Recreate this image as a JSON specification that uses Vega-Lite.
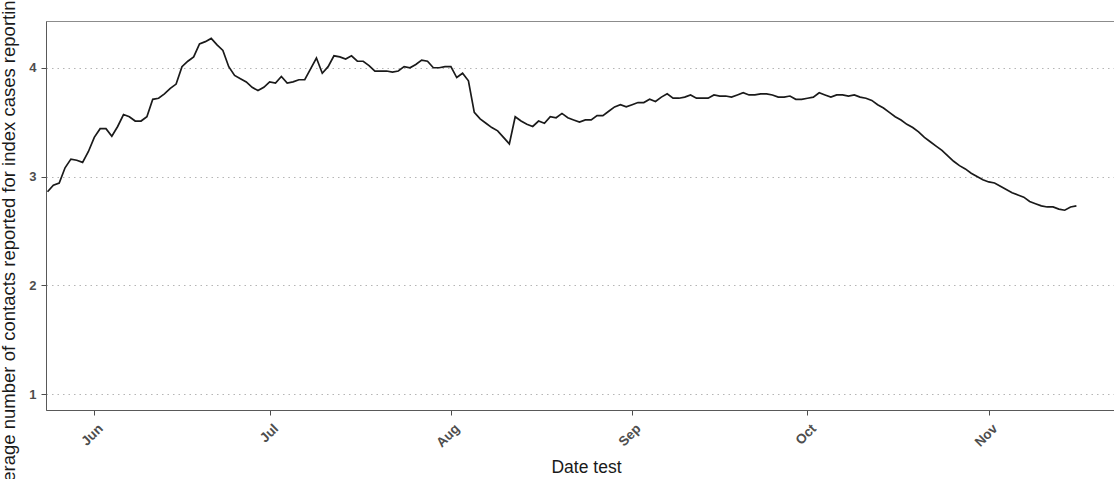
{
  "$schema": "https://vega.github.io/schema/vega-lite/v6.json",
  "autosize": {"type": "none"},
  "padding": {"left": 46, "top": 21, "right": 0, "bottom": 69},
  "width": 1068,
  "height": 389,
  "background": "white",
  "config": {
    "font": "Liberation Sans",
    "view": {"stroke": "#8c8c8c", "strokeWidth": 1}
  },
  "data": {
    "values": [
      {"date": "2020-05-24", "value": 2.86}, {"date": "2020-05-25", "value": 2.92}, {"date": "2020-05-26", "value": 2.94},
      {"date": "2020-05-27", "value": 3.08}, {"date": "2020-05-28", "value": 3.16}, {"date": "2020-05-29", "value": 3.15},
      {"date": "2020-05-30", "value": 3.13}, {"date": "2020-05-31", "value": 3.23}, {"date": "2020-06-01", "value": 3.36},
      {"date": "2020-06-02", "value": 3.44}, {"date": "2020-06-03", "value": 3.44}, {"date": "2020-06-04", "value": 3.37},
      {"date": "2020-06-05", "value": 3.46}, {"date": "2020-06-06", "value": 3.57}, {"date": "2020-06-07", "value": 3.55},
      {"date": "2020-06-08", "value": 3.51}, {"date": "2020-06-09", "value": 3.51}, {"date": "2020-06-10", "value": 3.55},
      {"date": "2020-06-11", "value": 3.71}, {"date": "2020-06-12", "value": 3.72}, {"date": "2020-06-13", "value": 3.76},
      {"date": "2020-06-14", "value": 3.81}, {"date": "2020-06-15", "value": 3.85}, {"date": "2020-06-16", "value": 4.01},
      {"date": "2020-06-17", "value": 4.06}, {"date": "2020-06-18", "value": 4.10}, {"date": "2020-06-19", "value": 4.22},
      {"date": "2020-06-20", "value": 4.24}, {"date": "2020-06-21", "value": 4.27}, {"date": "2020-06-22", "value": 4.21},
      {"date": "2020-06-23", "value": 4.16}, {"date": "2020-06-24", "value": 4.01}, {"date": "2020-06-25", "value": 3.93},
      {"date": "2020-06-26", "value": 3.90}, {"date": "2020-06-27", "value": 3.87}, {"date": "2020-06-28", "value": 3.82},
      {"date": "2020-06-29", "value": 3.79}, {"date": "2020-06-30", "value": 3.82}, {"date": "2020-07-01", "value": 3.87},
      {"date": "2020-07-02", "value": 3.86}, {"date": "2020-07-03", "value": 3.92}, {"date": "2020-07-04", "value": 3.86},
      {"date": "2020-07-05", "value": 3.87}, {"date": "2020-07-06", "value": 3.89}, {"date": "2020-07-07", "value": 3.89},
      {"date": "2020-07-08", "value": 3.99}, {"date": "2020-07-09", "value": 4.09}, {"date": "2020-07-10", "value": 3.95},
      {"date": "2020-07-11", "value": 4.01}, {"date": "2020-07-12", "value": 4.11}, {"date": "2020-07-13", "value": 4.10},
      {"date": "2020-07-14", "value": 4.08}, {"date": "2020-07-15", "value": 4.11}, {"date": "2020-07-16", "value": 4.06},
      {"date": "2020-07-17", "value": 4.06}, {"date": "2020-07-18", "value": 4.02}, {"date": "2020-07-19", "value": 3.97},
      {"date": "2020-07-20", "value": 3.97}, {"date": "2020-07-21", "value": 3.97}, {"date": "2020-07-22", "value": 3.96},
      {"date": "2020-07-23", "value": 3.97}, {"date": "2020-07-24", "value": 4.01}, {"date": "2020-07-25", "value": 4.00},
      {"date": "2020-07-26", "value": 4.03}, {"date": "2020-07-27", "value": 4.07}, {"date": "2020-07-28", "value": 4.06},
      {"date": "2020-07-29", "value": 4.00}, {"date": "2020-07-30", "value": 4.00}, {"date": "2020-07-31", "value": 4.01},
      {"date": "2020-08-01", "value": 4.01}, {"date": "2020-08-02", "value": 3.91}, {"date": "2020-08-03", "value": 3.95},
      {"date": "2020-08-04", "value": 3.88}, {"date": "2020-08-05", "value": 3.59}, {"date": "2020-08-06", "value": 3.53},
      {"date": "2020-08-07", "value": 3.49}, {"date": "2020-08-08", "value": 3.45}, {"date": "2020-08-09", "value": 3.42},
      {"date": "2020-08-10", "value": 3.36}, {"date": "2020-08-11", "value": 3.30}, {"date": "2020-08-12", "value": 3.55},
      {"date": "2020-08-13", "value": 3.51}, {"date": "2020-08-14", "value": 3.48}, {"date": "2020-08-15", "value": 3.46},
      {"date": "2020-08-16", "value": 3.51}, {"date": "2020-08-17", "value": 3.49}, {"date": "2020-08-18", "value": 3.55},
      {"date": "2020-08-19", "value": 3.54}, {"date": "2020-08-20", "value": 3.58}, {"date": "2020-08-21", "value": 3.54},
      {"date": "2020-08-22", "value": 3.52}, {"date": "2020-08-23", "value": 3.50}, {"date": "2020-08-24", "value": 3.52},
      {"date": "2020-08-25", "value": 3.52}, {"date": "2020-08-26", "value": 3.56}, {"date": "2020-08-27", "value": 3.56},
      {"date": "2020-08-28", "value": 3.60}, {"date": "2020-08-29", "value": 3.64}, {"date": "2020-08-30", "value": 3.66},
      {"date": "2020-08-31", "value": 3.64}, {"date": "2020-09-01", "value": 3.66}, {"date": "2020-09-02", "value": 3.68},
      {"date": "2020-09-03", "value": 3.68}, {"date": "2020-09-04", "value": 3.71}, {"date": "2020-09-05", "value": 3.69},
      {"date": "2020-09-06", "value": 3.73}, {"date": "2020-09-07", "value": 3.76}, {"date": "2020-09-08", "value": 3.72},
      {"date": "2020-09-09", "value": 3.72}, {"date": "2020-09-10", "value": 3.73}, {"date": "2020-09-11", "value": 3.75},
      {"date": "2020-09-12", "value": 3.72}, {"date": "2020-09-13", "value": 3.72}, {"date": "2020-09-14", "value": 3.72},
      {"date": "2020-09-15", "value": 3.75}, {"date": "2020-09-16", "value": 3.74}, {"date": "2020-09-17", "value": 3.74},
      {"date": "2020-09-18", "value": 3.73}, {"date": "2020-09-19", "value": 3.75}, {"date": "2020-09-20", "value": 3.77},
      {"date": "2020-09-21", "value": 3.75}, {"date": "2020-09-22", "value": 3.75}, {"date": "2020-09-23", "value": 3.76},
      {"date": "2020-09-24", "value": 3.76}, {"date": "2020-09-25", "value": 3.75}, {"date": "2020-09-26", "value": 3.73},
      {"date": "2020-09-27", "value": 3.73}, {"date": "2020-09-28", "value": 3.74}, {"date": "2020-09-29", "value": 3.71},
      {"date": "2020-09-30", "value": 3.71}, {"date": "2020-10-01", "value": 3.72}, {"date": "2020-10-02", "value": 3.73},
      {"date": "2020-10-03", "value": 3.77}, {"date": "2020-10-04", "value": 3.75}, {"date": "2020-10-05", "value": 3.73},
      {"date": "2020-10-06", "value": 3.75}, {"date": "2020-10-07", "value": 3.75}, {"date": "2020-10-08", "value": 3.74},
      {"date": "2020-10-09", "value": 3.75}, {"date": "2020-10-10", "value": 3.73}, {"date": "2020-10-11", "value": 3.72},
      {"date": "2020-10-12", "value": 3.70}, {"date": "2020-10-13", "value": 3.66}, {"date": "2020-10-14", "value": 3.63},
      {"date": "2020-10-15", "value": 3.59}, {"date": "2020-10-16", "value": 3.55}, {"date": "2020-10-17", "value": 3.52},
      {"date": "2020-10-18", "value": 3.48}, {"date": "2020-10-19", "value": 3.45}, {"date": "2020-10-20", "value": 3.41},
      {"date": "2020-10-21", "value": 3.36}, {"date": "2020-10-22", "value": 3.32}, {"date": "2020-10-23", "value": 3.28},
      {"date": "2020-10-24", "value": 3.24}, {"date": "2020-10-25", "value": 3.19}, {"date": "2020-10-26", "value": 3.14},
      {"date": "2020-10-27", "value": 3.10}, {"date": "2020-10-28", "value": 3.07}, {"date": "2020-10-29", "value": 3.03},
      {"date": "2020-10-30", "value": 3.00}, {"date": "2020-10-31", "value": 2.97}, {"date": "2020-11-01", "value": 2.95},
      {"date": "2020-11-02", "value": 2.94}, {"date": "2020-11-03", "value": 2.91}, {"date": "2020-11-04", "value": 2.88},
      {"date": "2020-11-05", "value": 2.85}, {"date": "2020-11-06", "value": 2.83}, {"date": "2020-11-07", "value": 2.81},
      {"date": "2020-11-08", "value": 2.77}, {"date": "2020-11-09", "value": 2.75}, {"date": "2020-11-10", "value": 2.73},
      {"date": "2020-11-11", "value": 2.72}, {"date": "2020-11-12", "value": 2.72}, {"date": "2020-11-13", "value": 2.70},
      {"date": "2020-11-14", "value": 2.69}, {"date": "2020-11-15", "value": 2.72}, {"date": "2020-11-16", "value": 2.73}
    ]
  },
  "mark": {"type": "line", "color": "#1a1a1a", "strokeWidth": 1.7, "clip": true},
  "encoding": {
    "x": {
      "field": "date",
      "type": "temporal",
      "scale": {
        "type": "utc",
        "domain": [
          {"year": 2020, "month": "may", "date": 23, "hours": 17, "minutes": 46, "utc": true},
          {"year": 2020, "month": "nov", "date": 22, "hours": 10, "minutes": 20, "utc": true}
        ]
      },
      "axis": {
        "title": "Date test",
        "titleFont": "Liberation Sans",
        "titleFontSize": 17.5,
        "titleFontWeight": "normal",
        "titleColor": "#1a1a1a",
        "titleBaseline": "alphabetic",
        "titleX": 540,
        "titleY": 62,
        "values": [
          {"year": 2020, "month": "jun", "date": 1, "utc": true},
          {"year": 2020, "month": "jul", "date": 1, "utc": true},
          {"year": 2020, "month": "aug", "date": 1, "utc": true},
          {"year": 2020, "month": "sep", "date": 1, "utc": true},
          {"year": 2020, "month": "oct", "date": 1, "utc": true},
          {"year": 2020, "month": "nov", "date": 1, "utc": true}
        ],
        "labelExpr": "utcFormat(datum.value, '%b')",
        "grid": false,
        "domainColor": "#595959",
        "domainWidth": 1,
        "tickColor": "#4d4d4d",
        "tickSize": 5,
        "tickWidth": 1,
        "labelAngle": -45,
        "labelAlign": "right",
        "labelBaseline": "alphabetic",
        "labelOffset": 9,
        "labelPadding": 14,
        "labelFontSize": 13.5,
        "labelFontWeight": "bold",
        "labelColor": "#4d4d4d"
      }
    },
    "y": {
      "field": "value",
      "type": "quantitative",
      "scale": {"domain": [0.853, 4.43], "nice": false, "zero": false},
      "axis": {
        "title": "Average number of contacts reported for index cases reporting contacts",
        "titleFont": "Liberation Sans",
        "titleFontSize": 18.5,
        "titleFontWeight": "normal",
        "titleColor": "#1a1a1a",
        "titleBaseline": "alphabetic",
        "titleAngle": -90,
        "titleAnchor": "middle",
        "titleX": -32,
        "titleY": 188,
        "values": [1, 2, 3, 4],
        "format": "d",
        "domainColor": "#595959",
        "domainWidth": 1,
        "tickColor": "#4d4d4d",
        "tickSize": 5,
        "tickWidth": 1,
        "labelPadding": 5,
        "labelFontSize": 13,
        "labelFontWeight": "bold",
        "labelColor": "#4d4d4d",
        "grid": true,
        "gridColor": "#b5b5b5",
        "gridWidth": 1,
        "gridDash": [1.5, 4]
      }
    }
  }
}
